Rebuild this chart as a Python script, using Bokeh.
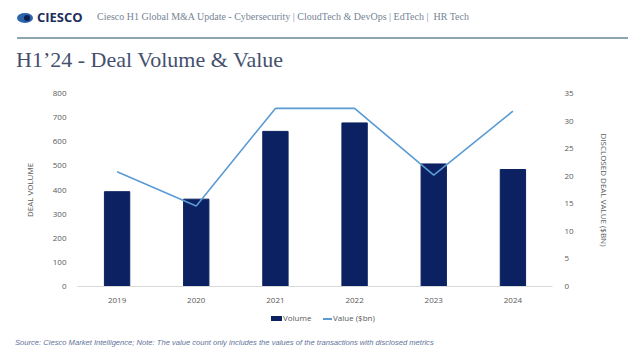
from bokeh.plotting import figure
from bokeh.layouts import column
from bokeh.models import Range1d, LinearAxis, FixedTicker, FactorRange, Div
from bokeh.embed import file_html
from bokeh.resources import INLINE

years = ["2019", "2020", "2021", "2022", "2023", "2024"]
volume = [393, 362, 643, 678, 508, 485]
value_bn = [20.8, 14.6, 32.3, 32.3, 20.2, 31.8]
left_ticks = [0, 100, 200, 300, 400, 500, 600, 700, 800]
right_ticks = [0, 5, 10, 15, 20, 25, 30, 35]
series_names = ["Volume", "Value ($bn)"]

header_text = "Ciesco H1 Global M&amp;A Update - Cybersecurity | CloudTech &amp; DevOps | EdTech |&nbsp; HR Tech"
title_text = "H1\u201924 - Deal Volume &amp; Value"
footer_text = ("Source: Ciesco Market Intelligence; Note: The value count only includes the values "
               "of the transactions with disclosed metrics")

NAVY = "#0b2161"
LINE = "#5b9bd5"
TICK = "#595959"
FONT = "Open Sans"

W = 632
HEAD_H, CHART_H, FOOT_H = 80, 230, 42

# ---------- header ----------
head_html = f"""
<div style="position:relative;width:{W}px;height:{HEAD_H}px;margin:0;padding:0;">
  <div style="position:absolute;left:17px;top:13px;width:16px;height:10px;border-radius:50%;background:#2c63ad;"></div>
  <div style="position:absolute;left:24px;top:15px;width:6px;height:6px;border-radius:50%;background:#0d1f4a;"></div>
  <span style="position:absolute;left:37px;top:9px;line-height:16px;font-family:'Open Sans';font-size:13px;font-weight:bold;color:#1d2d5c;white-space:nowrap;">CIESCO</span>
  <span style="position:absolute;left:97px;top:10px;line-height:14px;font-family:'Liberation Serif';font-size:10px;color:#758496;white-space:nowrap;">{header_text}</span>
  <div style="position:absolute;left:17px;top:37px;width:611px;height:2px;background:#8ea4ae;"></div>
  <span style="position:absolute;left:16px;top:47px;line-height:26px;font-family:'Liberation Serif';font-size:22px;color:#44506e;white-space:nowrap;">{title_text}</span>
</div>
"""
hd = Div(text=head_html, width=W, height=HEAD_H, margin=0)

# ---------- chart ----------
p = figure(width=W, height=CHART_H, x_range=FactorRange(*years), y_range=Range1d(0, 800),
           output_backend="svg", toolbar_location=None,
           min_border_left=77, min_border_right=W - 552, min_border_top=13,
           min_border_bottom=CHART_H - 13 - 193, margin=0)
p.outline_line_color = None
p.xgrid.grid_line_color = None
p.ygrid.grid_line_color = None
p.x_range.range_padding = 0
p.extra_y_ranges = {"val": Range1d(0, 35)}

p.vbar(x=years, top=volume, width=0.32, color=NAVY)
p.line(x=years, y=value_bn, y_range_name="val", line_color=LINE, line_width=1.6)

xa = p.xaxis[0]
xa.axis_line_color = "#d9d9d9"
xa.major_tick_line_color = None
xa.minor_tick_line_color = None
xa.major_label_text_font = FONT
xa.major_label_text_font_size = "8px"
xa.major_label_text_color = TICK
xa.major_label_standoff = 5

ya = p.yaxis[0]
ya.ticker = FixedTicker(ticks=left_ticks)
ya.axis_line_color = None
ya.major_tick_line_color = None
ya.minor_tick_line_color = None
ya.major_label_text_font = FONT
ya.major_label_text_font_size = "8px"
ya.major_label_text_color = TICK
ya.major_label_standoff = 5
ya.axis_label = "DEAL VOLUME"
ya.axis_label_text_font = FONT
ya.axis_label_text_font_size = "8px"
ya.axis_label_text_font_style = "normal"
ya.axis_label_text_color = TICK
ya.axis_label_standoff = 15

ra = LinearAxis(y_range_name="val", ticker=FixedTicker(ticks=right_ticks))
ra.axis_line_color = None
ra.major_tick_line_color = None
ra.minor_tick_line_color = None
ra.major_label_text_font = FONT
ra.major_label_text_font_size = "8px"
ra.major_label_text_color = TICK
ra.major_label_standoff = 6
ra.axis_label = "DISCLOSED DEAL VALUE ($BN)"
ra.axis_label_text_font = FONT
ra.axis_label_text_font_size = "8px"
ra.axis_label_text_font_style = "normal"
ra.axis_label_text_color = TICK
ra.axis_label_standoff = 22
p.add_layout(ra, "right")

# ---------- legend + footer ----------
foot_html = f"""
<div style="position:relative;width:{W}px;height:{FOOT_H}px;margin:0;padding:0;">
  <div style="position:absolute;left:271px;top:6px;width:11px;height:5px;background:{NAVY};"></div>
  <span style="position:absolute;left:283px;top:2px;line-height:12px;font-family:'Open Sans';font-size:8px;color:{TICK};white-space:nowrap;">{series_names[0]}</span>
  <div style="position:absolute;left:323px;top:8px;width:9px;height:1.5px;background:{LINE};"></div>
  <span style="position:absolute;left:333px;top:2px;line-height:12px;font-family:'Open Sans';font-size:8px;color:{TICK};white-space:nowrap;">{series_names[1]}</span>
  <span style="position:absolute;left:15px;top:27px;line-height:12px;font-family:'Liberation Sans';font-size:7.6px;font-style:italic;color:#63739a;white-space:nowrap;">{footer_text}</span>
</div>
"""
ft = Div(text=foot_html, width=W, height=FOOT_H, margin=0)

layout = column(hd, p, ft, spacing=0)
open("out.html", "w").write(file_html(layout, INLINE))
